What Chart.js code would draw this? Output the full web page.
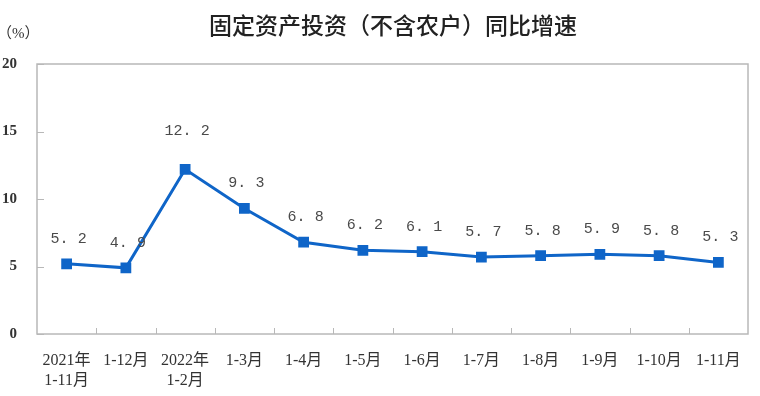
<!DOCTYPE html>
<html>
<head>
<meta charset="utf-8">
<script src="https://cdn.jsdelivr.net/npm/chart.js@4"></script>
<style>
  html, body { margin: 0; padding: 0; background: #fff; }
  #wrap { width: 760px; height: 396px; }
</style>
</head>
<body>
<div id="wrap"><canvas id="fixedInvestChart" width="760" height="396"></canvas></div>
<script>
// Data
const categories = [
    ['2021年', '1-11月'], '1-12月', ['2022年', '1-2月'], '1-3月', '1-4月', '1-5月',
    '1-6月', '1-7月', '1-8月', '1-9月', '1-10月', '1-11月'
];
const growthRate = [5.2, 4.9, 12.2, 9.3, 6.8, 6.2, 6.1, 5.7, 5.8, 5.9, 5.8, 5.3];
const yTicks = [0, 5, 10, 15, 20];

const chartTitle = '固定资产投资（不含农户）同比增速';
const unitLabel = '（%）';

const blue = '#0f65c8';
const axisGray = '#b8b8b8';
const textColor = '#333';

// title, unit, border box, inner ticks and point labels
const decorations = {
    id: 'decorations',
    afterDraw(chart) {
        const ctx = chart.ctx;
        const area = chart.chartArea;
        const x = chart.scales.x;
        const y = chart.scales.y;
        ctx.save();

        ctx.fillStyle = '#222';
        ctx.font = '500 23px "Noto Sans CJK SC", sans-serif';
        ctx.textAlign = 'center';
        ctx.textBaseline = 'middle';
        ctx.fillText(chartTitle, 393, 25);

        ctx.fillStyle = textColor;
        ctx.font = '15px "Liberation Serif", "Noto Sans CJK SC", serif';
        ctx.textAlign = 'left';
        ctx.fillText(unitLabel, -3, 34);

        // box around plot
        ctx.strokeStyle = axisGray;
        ctx.lineWidth = 1.5;
        ctx.strokeRect(area.left, area.top, area.right - area.left, area.bottom - area.top);

        // ticks pointing inward
        ctx.lineWidth = 1;
        for (let i = 1; i < categories.length; i++) {
            const px = Math.round((x.getPixelForValue(i - 1) + x.getPixelForValue(i)) / 2) + 0.5;
            ctx.beginPath();
            ctx.moveTo(px, area.bottom);
            ctx.lineTo(px, area.bottom - 6);
            ctx.stroke();
        }
        yTicks.forEach(function(v) {
            const py = Math.round(y.getPixelForValue(v)) + 0.5;
            ctx.beginPath();
            ctx.moveTo(area.left, py);
            ctx.lineTo(area.left + 7, py);
            ctx.stroke();
        });
        ctx.restore();
    },
    afterDatasetsDraw(chart) {
        const ctx = chart.ctx;
        const meta = chart.getDatasetMeta(0);
        ctx.save();
        ctx.fillStyle = '#4a4a4a';
        ctx.font = '15px "Liberation Mono", monospace';
        ctx.textAlign = 'center';
        ctx.textBaseline = 'middle';
        meta.data.forEach(function(pt, i) {
            const v = growthRate[i];
            const lift = v > 10 ? 38 : 25;
            ctx.fillText(v.toFixed(1).replace('.', '. '), pt.x + 2, pt.y - lift);
        });
        ctx.restore();
    }
};

const ctx = document.getElementById('fixedInvestChart').getContext('2d');

new Chart(ctx, {
    type: 'line',
    data: {
        labels: categories,
        datasets: [{
            data: growthRate,
            borderColor: blue,
            backgroundColor: blue,
            borderWidth: 3,
            pointStyle: 'rect',
            pointRadius: 5.5,
            pointHoverRadius: 5.5,
            tension: 0
        }]
    },
    options: {
        responsive: false,
        animation: false,
        events: [],
        layout: {
            padding: { top: 64, right: 12, left: 0, bottom: 0 }
        },
        plugins: {
            legend: { display: false },
            tooltip: { enabled: false },
            title: { display: false }
        },
        scales: {
            x: {
                type: 'category',
                offset: true,
                grid: { display: false, drawOnChartArea: false },
                border: { display: false },
                ticks: {
                    color: textColor,
                    autoSkip: false,
                    maxRotation: 0,
                    padding: 8,
                    font: { family: '"Liberation Serif", "Noto Sans CJK SC", serif', size: 16, lineHeight: 1.3 }
                },
                afterFit(scale) { scale.height = 62; }
            },
            y: {
                min: 0,
                max: 20,
                afterBuildTicks(scale) {
                    scale.ticks = yTicks.map(function(v) { return { value: v }; });
                },
                grid: { display: false, drawOnChartArea: false },
                border: { display: false },
                ticks: {
                    color: textColor,
                    padding: 12,
                    font: { family: '"Liberation Serif", serif', size: 15, weight: 'bold' }
                },
                afterFit(scale) { scale.width = 37; }
            }
        }
    },
    plugins: [decorations]
});
</script>
</body>
</html>
